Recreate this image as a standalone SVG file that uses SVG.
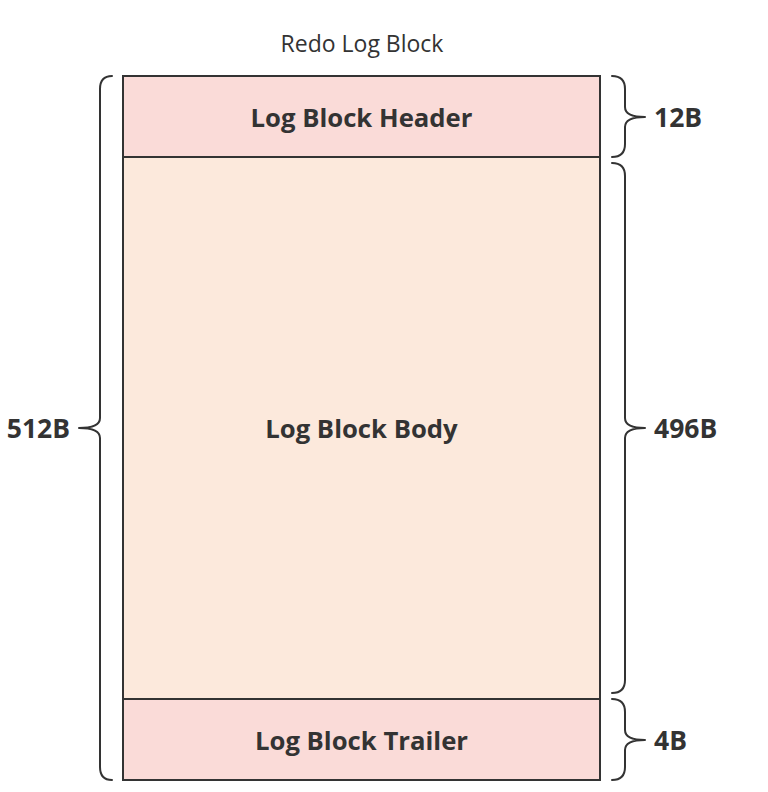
<svg xmlns="http://www.w3.org/2000/svg" width="768" height="792" viewBox="0 0 768 792">
<style>
.blk{stroke:#333;stroke-width:2}
.brace{fill:none;stroke:#333;stroke-width:2;stroke-linecap:round;stroke-linejoin:round}
.lbl{font-family:"Open Sans","Noto Sans","Liberation Sans",sans-serif;font-weight:bold;font-size:25.7px;fill:#333}
.size{font-family:"Open Sans","Noto Sans","Liberation Sans",sans-serif;font-weight:bold;font-size:26.5px;fill:#333}
.title{font-family:"Open Sans","Noto Sans","Liberation Sans",sans-serif;font-size:23px;fill:#333}
</style>
<rect width="768" height="792" fill="#fff"/>
<text class="title" x="362" y="52" text-anchor="middle">Redo Log Block</text>
<g id="header">
<rect class="blk" x="123" y="76" width="477" height="81" fill="#fadbd8"/>
<text class="lbl" x="361.5" y="127" text-anchor="middle">Log Block Header</text>
</g>
<g id="body">
<rect class="blk" x="123" y="157" width="477" height="542" fill="#fce9dc"/>
<text class="lbl" x="361.5" y="438" text-anchor="middle">Log Block Body</text>
</g>
<g id="trailer">
<rect class="blk" x="123" y="699" width="477" height="81" fill="#fadbd8"/>
<text class="lbl" x="361.5" y="750" text-anchor="middle">Log Block Trailer</text>
</g>
<g id="connectors">
<path class="brace" d="M612,76 Q625,76 625,89 L625,107 Q625,117 645,117 Q625,117 625,127 L625,144 Q625,157 612,157"/>
<path class="brace" d="M612,163 Q625,163 625,176 L625,418 Q625,428 645,428 Q625,428 625,438 L625,680 Q625,693 612,693"/>
<path class="brace" d="M612,699 Q625,699 625,712 L625,730 Q625,740 645,740 Q625,740 625,750 L625,767 Q625,780 612,780"/>
<path class="brace" d="M112,76 Q100,76 100,89 L100,418 Q100,428 79,428 Q100,428 100,438 L100,767 Q100,780 112,780"/>
</g>
<g id="sizes">
<text class="size" x="654" y="127">12B</text>
<text class="size" x="654" y="438">496B</text>
<text class="size" x="654" y="750">4B</text>
<text class="size" x="70" y="438" text-anchor="end">512B</text>
</g>
</svg>
